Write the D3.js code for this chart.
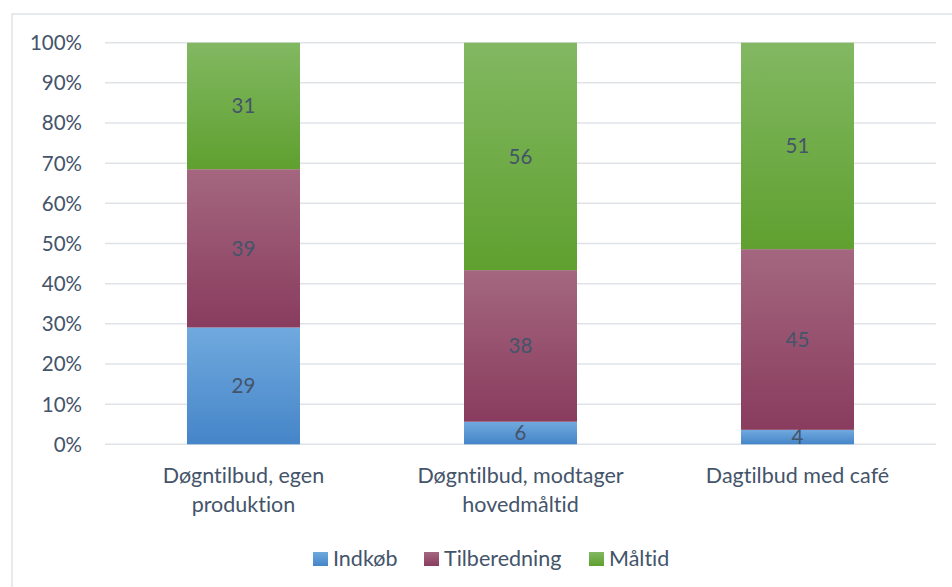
<!DOCTYPE html>
<html>
<head>
<meta charset="utf-8">
<script src="https://cdn.jsdelivr.net/npm/d3@7"></script>
<style>
  html, body { margin: 0; padding: 0; background: #fff; }
  svg { display: block; font-family: Lato, "Open Sans", sans-serif; font-variant-ligatures: none; font-feature-settings: "liga" 0, "clig" 0; }
</style>
</head>
<body>
<svg id="chart" width="952" height="587"></svg>
<script>
// ---- data ----
const categories = [["Døgntilbud, egen", "produktion"], ["Døgntilbud, modtager", "hovedmåltid"], ["Dagtilbud med café"]];
const seriesNames = ["Indkøb", "Tilberedning", "Måltid"];
const indkob = [29.0, 5.6, 3.6];
const tilberedning = [39.3, 37.6, 45.0];
const maltid = [31.4, 56.4, 51.4];
const tickLabels = ["0%", "10%", "20%", "30%", "40%", "50%", "60%", "70%", "80%", "90%", "100%"];
const seriesValues = [indkob, tilberedning, maltid];

// ---- styles ----
const textColor = "#44546A";
const gridColor = "#dfe3e8";
const fontSize = 21.5;
const gradients = [
  ["#70a9de", "#4585c8"],
  ["#a4677f", "#893c5e"],
  ["#82b862", "#5fa02f"]
];

const svg = d3.select("#chart");
const defs = svg.append("defs");
gradients.forEach((g, i) => {
  const lg = defs.append("linearGradient").attr("id", "grad" + i)
    .attr("x1", 0).attr("y1", 0).attr("x2", 0).attr("y2", 1);
  lg.append("stop").attr("offset", "0%").attr("stop-color", g[0]);
  lg.append("stop").attr("offset", "100%").attr("stop-color", g[1]);
});

// chart border
svg.append("rect").attr("x", 12).attr("y", 14).attr("width", 960).attr("height", 600)
  .attr("fill", "none").attr("stroke", gridColor).attr("stroke-width", 1.5);

const plot = { left: 105, right: 936, top: 42.7, bottom: 444.3 };

const x = d3.scaleBand().domain(d3.range(categories.length))
  .range([plot.left, plot.right]).paddingInner(0).paddingOuter(0);
const barWidth = 113;
const y = d3.scaleLinear().domain([0, 1]).range([plot.bottom, plot.top]);

// table of rows for stack
const rows = categories.map((c, i) => {
  const r = { idx: i };
  seriesNames.forEach((s, j) => r[s] = seriesValues[j][i]);
  return r;
});
const stack = d3.stack().keys(seriesNames).offset(d3.stackOffsetExpand);
const stacked = stack(rows);

// gridlines
const ticks = d3.range(0, 1.0001, 0.1);
svg.append("g").selectAll("line").data(ticks).join("line")
  .attr("x1", plot.left).attr("x2", plot.right)
  .attr("y1", d => y(d)).attr("y2", d => y(d))
  .attr("stroke", gridColor).attr("stroke-width", 1.5);

// y axis labels
svg.append("g").selectAll("text").data(ticks).join("text")
  .attr("x", 82).attr("y", d => y(d)).attr("dy", "0.36em")
  .attr("text-anchor", "end").attr("fill", textColor).attr("font-size", 20.5)
  .text((d, i) => tickLabels[i]);

// bars
const fmt = d3.format(".0f");
stacked.forEach((layer, si) => {
  const g = svg.append("g");
  g.selectAll("rect").data(layer).join("rect")
    .attr("x", (d, i) => x(i) + x.bandwidth() / 2 - barWidth / 2)
    .attr("width", barWidth)
    .attr("y", d => y(d[1]))
    .attr("height", d => y(d[0]) - y(d[1]))
    .attr("fill", "url(#grad" + si + ")");
  g.selectAll("text").data(layer).join("text")
    .attr("x", (d, i) => x(i) + x.bandwidth() / 2)
    .attr("y", d => (y(d[0]) + y(d[1])) / 2)
    .attr("dy", "0.36em")
    .attr("text-anchor", "middle").attr("fill", textColor).attr("font-size", 20.5)
    .text((d, i) => fmt(seriesValues[si][i]));
});

// category labels
const cat = svg.append("g");
categories.forEach((lines, i) => {
  const t = cat.append("text").attr("text-anchor", "middle")
    .attr("fill", textColor).attr("font-size", fontSize);
  lines.forEach((ln, k) => {
    t.append("tspan").attr("x", x(i) + x.bandwidth() / 2)
      .attr("y", 483 + k * 29).text(ln);
  });
});

// legend
const legendX = [313, 424, 589];
const leg = svg.append("g");
seriesNames.forEach((s, i) => {
  leg.append("rect").attr("x", legendX[i]).attr("y", 552).attr("width", 15).attr("height", 14)
    .attr("fill", "url(#grad" + i + ")");
  leg.append("text").attr("x", legendX[i] + 20).attr("y", 566)
    .attr("fill", textColor).attr("font-size", fontSize).text(s);
});
</script>
</body>
</html>
